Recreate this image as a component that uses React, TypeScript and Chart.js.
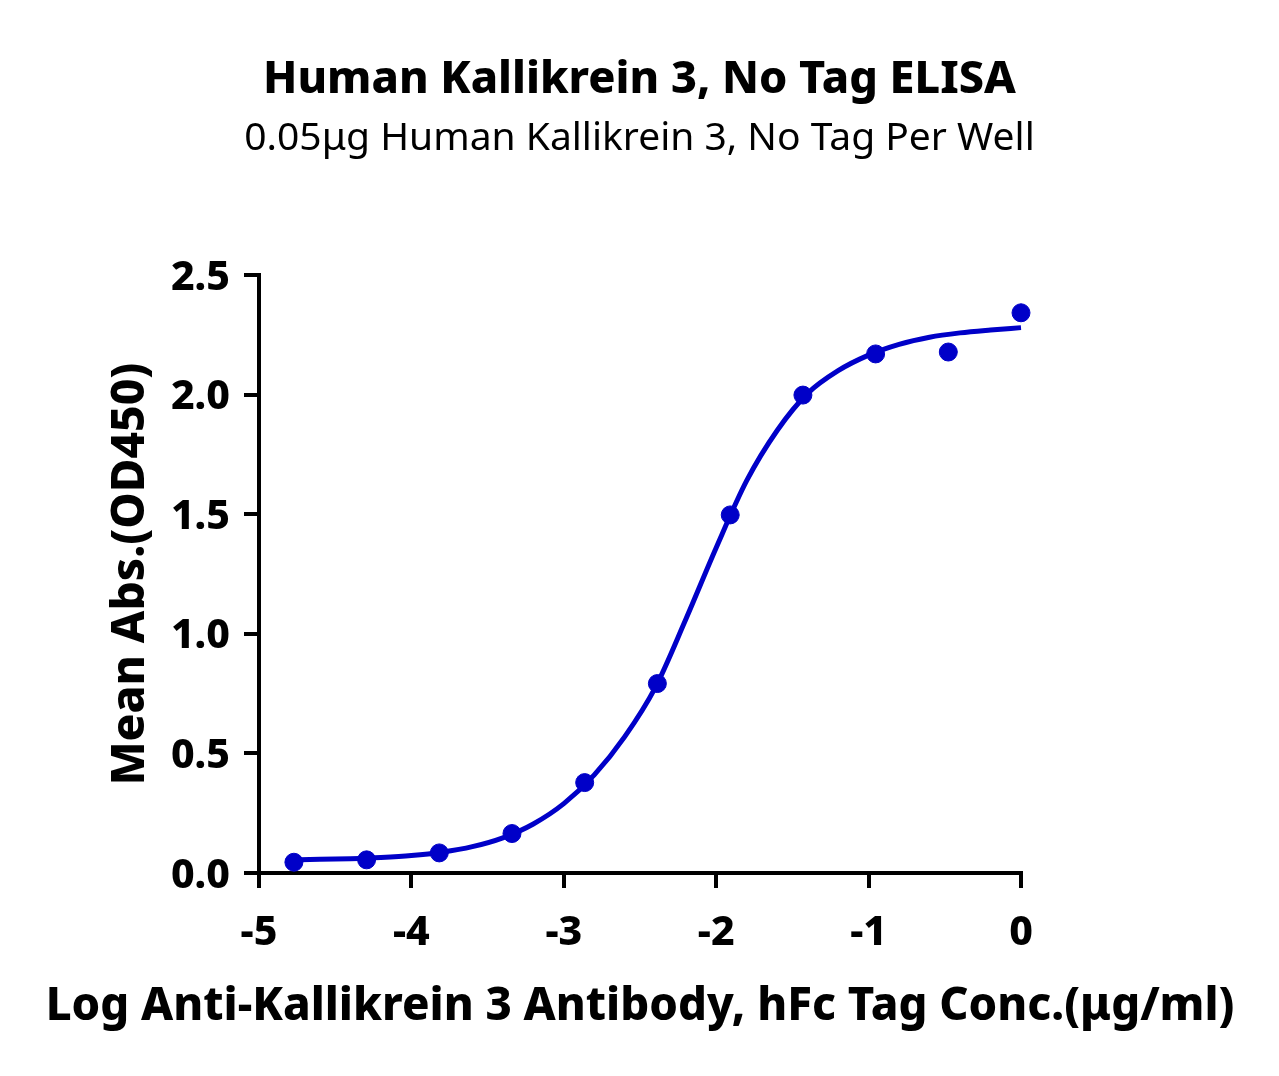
import React, { useEffect, useRef } from "react";
import { Chart, registerables } from "chart.js";

Chart.register(...registerables);

const logConc = [-4.771, -4.294, -3.817, -3.34, -2.863, -2.386, -1.908, -1.431, -0.954, -0.477, 0];
const meanAbs = [0.045, 0.055, 0.084, 0.165, 0.378, 0.792, 1.497, 1.998, 2.17, 2.178, 2.342];

const curveX = [-4.8, -4.6, -4.4, -4.2, -4.0, -3.8, -3.6, -3.4, -3.2, -3.0, -2.8, -2.6, -2.4, -2.2, -2.0, -1.8, -1.6, -1.4, -1.2, -1.0, -0.8, -0.6, -0.4, -0.2, 0];
const curveY = [0.055, 0.057, 0.06, 0.065, 0.073, 0.087, 0.11, 0.147, 0.205, 0.29, 0.41, 0.57, 0.775, 1.06, 1.36, 1.64, 1.85, 2.005, 2.1, 2.165, 2.21, 2.24, 2.258, 2.27, 2.28];

const titleText = "Human Kallikrein 3, No Tag ELISA";
const subtitleText = "0.05μg Human Kallikrein 3, No Tag Per Well";
const xTitle = "Log Anti-Kallikrein 3 Antibody, hFc Tag Conc.(μg/ml)";
const yTitle = "Mean Abs.(OD450)";

const FONT = "'Noto Sans'";
const BLUE = "#0000c8";
const HEAVY = 800;

const textPlugin = {
  id: "textPlugin",
  afterDraw(chart: any) {
    const { ctx, chartArea, width } = chart;
    ctx.save();
    ctx.fillStyle = "#000";
    ctx.textAlign = "center";
    ctx.textBaseline = "alphabetic";
    ctx.font = `${HEAVY} 45px ${FONT}`;
    ctx.fillText(titleText, width / 2, 93);
    ctx.font = `normal 39px ${FONT}`;
    ctx.fillText(subtitleText, width / 2, 150);
    ctx.font = `${HEAVY} 45.5px ${FONT}`;
    ctx.fillText(xTitle, (chartArea.left + chartArea.right) / 2, 1020);
    ctx.restore();
  },
};

export default function App() {
  const ref = useRef<HTMLCanvasElement>(null);
  useEffect(() => {
    document.body.style.margin = "0";
    const ctx = ref.current!.getContext("2d")!;
    const chart = new Chart(ctx, {
      type: "scatter",
      data: {
        datasets: [
          {
            label: "points",
            data: logConc.map((x, i) => ({ x, y: meanAbs[i] })),
            backgroundColor: BLUE,
            borderColor: BLUE,
            pointRadius: 9,
            pointHoverRadius: 9,
            showLine: false,
            clip: false as any,
            order: 0,
          },
          {
            label: "fit",
            data: curveX.map((x, i) => ({ x, y: curveY[i] })),
            borderColor: BLUE,
            backgroundColor: BLUE,
            borderWidth: 5,
            pointRadius: 0,
            showLine: true,
            cubicInterpolationMode: "monotone",
            clip: false as any,
            order: 1,
          },
        ],
      },
      options: {
        animation: false,
        responsive: false,
        devicePixelRatio: 1,
        layout: { padding: { left: 0, right: 0, top: 275, bottom: 0 } },
        plugins: {
          legend: { display: false },
          tooltip: { enabled: false },
          title: { display: false },
          subtitle: { display: false },
        },
        scales: {
          x: {
            type: "linear",
            min: -5,
            max: 0,
            afterFit: (s: any) => {
              s.height = 203;
            },
            ticks: {
              stepSize: 1,
              color: "#000",
              font: { family: FONT, size: 41, weight: HEAVY as any },
              padding: 21,
              maxRotation: 0,
              callback: (v: any) => String(v),
            },
            grid: {
              drawOnChartArea: false,
              drawTicks: true,
              tickLength: 15,
              lineWidth: 4,
              color: "#000",
            },
            border: { display: true, width: 4, color: "#000" },
            title: { display: false },
          },
          y: {
            type: "linear",
            min: 0,
            max: 2.5,
            afterFit: (s: any) => {
              s.width = 259;
            },
            ticks: {
              stepSize: 0.5,
              color: "#000",
              font: { family: FONT, size: 41, weight: HEAVY as any },
              padding: 14,
              labelOffset: 3,
              callback: (v: any) => Number(v).toFixed(1),
            },
            grid: {
              drawOnChartArea: false,
              drawTicks: true,
              tickLength: 15,
              lineWidth: 4,
              color: "#000",
            },
            border: { display: true, width: 4, color: "#000" },
            title: {
              display: true,
              text: yTitle,
              color: "#000",
              font: { family: FONT, size: 46, weight: HEAVY as any },
              padding: { top: 103, bottom: 0 },
            },
          },
          yRight: {
            type: "linear",
            position: "right",
            display: true,
            min: 0,
            max: 2.5,
            afterFit: (s: any) => {
              s.width = 258;
            },
            ticks: { display: false },
            grid: { display: false, drawTicks: false },
            border: { display: false },
          },
        },
      },
      plugins: [textPlugin],
    });
    return () => chart.destroy();
  }, []);
  return (
    <div style={{ width: 1279, height: 1076, overflow: "hidden", background: "#fff" }}>
      <canvas ref={ref} width={1279} height={1076} style={{ display: "block" }} />
    </div>
  );
}
